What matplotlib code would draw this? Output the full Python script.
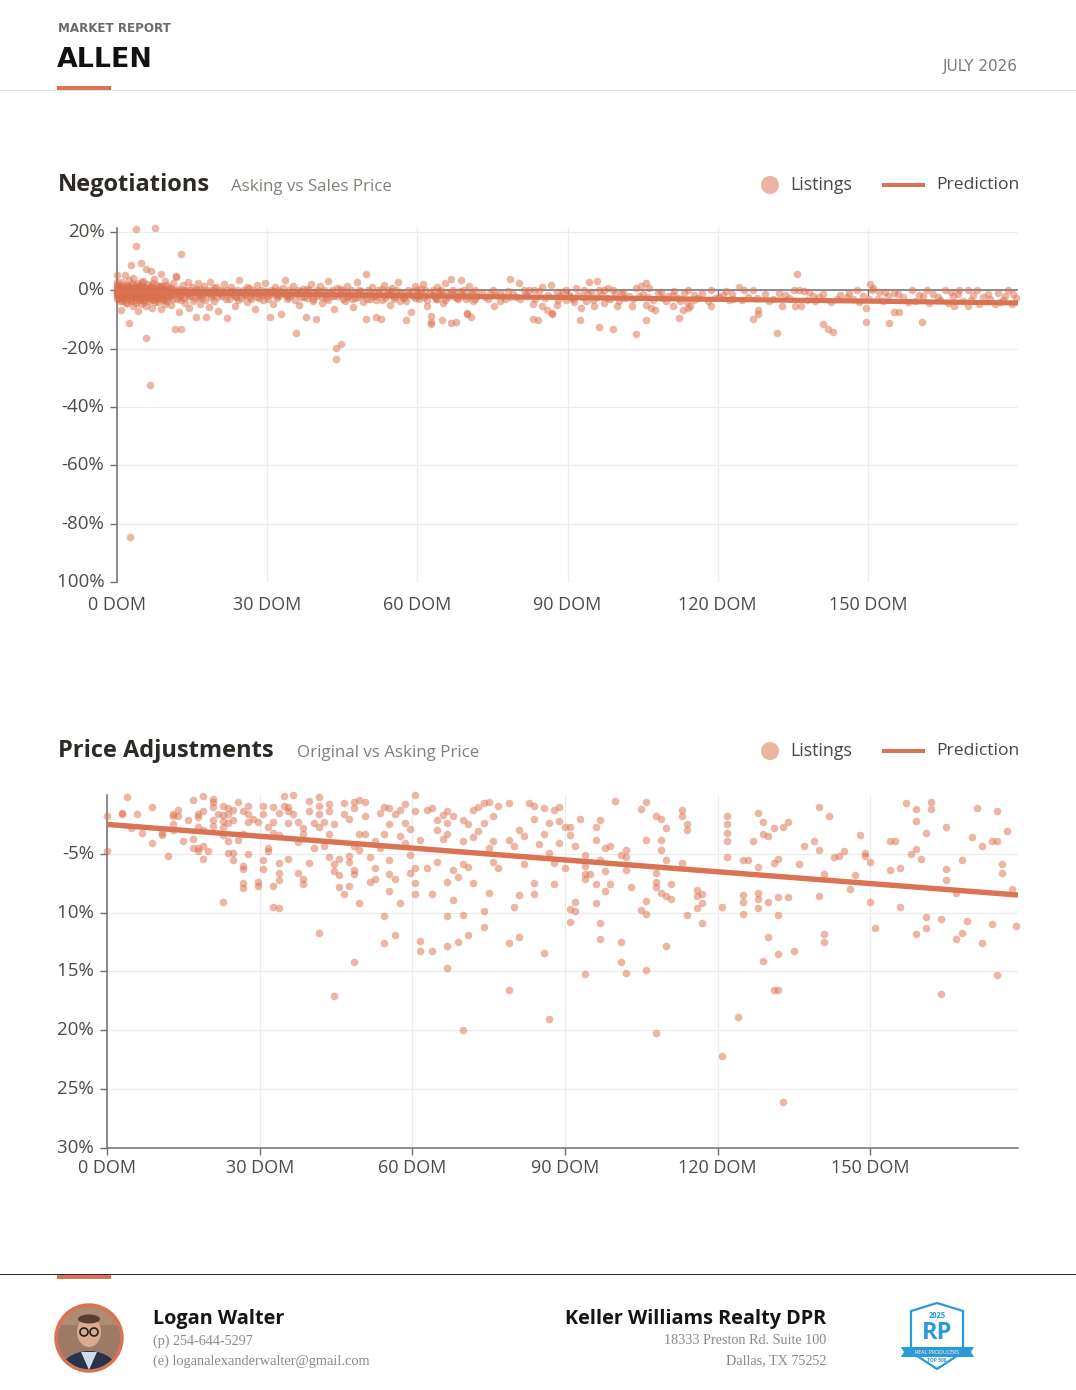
import matplotlib
matplotlib.use('Agg')
import matplotlib.pyplot as plt
from matplotlib.transforms import Bbox, TransformedBbox
from matplotlib.patches import Rectangle, Circle, Polygon, Ellipse

plt.rcParams['font.family'] = ['Open Sans', 'DejaVu Sans']

# ---------------- DATA ----------------
# Negotiations: (days on market, asking vs sales price %)
neg_pts_a = [(0,0),(0,-1),(0,1),(0,-2),(0,2),(0,-0.5),(0,0.5),(0,-3),(0,3),(0,-1.5),(0,5.3),(0.2,-0.3),(0.4,1.5),
    (0.5,-2.5),(0.6,0.8),(0.8,-6.7),(0.8,-1.2),(1,0),(1,2.8),(1,-3.5),(1.2,-0.8),(1.4,1.2),(1.6,5.3),(1.6,-2),(1.8,0.3),
    (2,-4.2),(2,2),(2,-1),(2.2,0),(2.4,-11.1),(2.4,3.5),(2.6,-84.5),(2.6,-0.5),(2.8,8.7),(2.8,-2.8),(2.8,1),(3,-1.8),
    (3,0),(3.2,-5.5),(3.2,4.2),(3.4,-0.6),(3.6,1.8),(3.8,21.1),(3.8,15.3),(3.8,-3.2),(4,0),(4,-1.3),(4,2.5),(4.2,-7),
    (4.4,0.7),(4.6,-2.2),(4.8,9.4),(4.8,-4.5),(5,0),(5,1.5),(5,-1),(5.2,3.2),(5.4,-2.8),(5.6,-0.3),(5.8,7.4),(5.8,-16.3),
    (5.8,-5.3),(6,0.5),(6,-1.8),(6.2,2.2),(6.4,-3.5),(6.6,-32.4),(6.6,0),(6.8,6.7),(6.8,-2),(7,1),(7,-6.2),(7.2,-0.8),
    (7.4,3.8),(7.6,21.4),(7.6,-1.5),(7.8,0),(8,-2.8),(8,2),(8.2,-4),(8.4,0.4),(8.6,-1),(8.8,5.5),(8.8,-6.5),(9,-0.5),
    (9,1.4),(9.2,-2.6),(9.4,0),(9.6,3.1),(9.8,-1.7),(10,-3.8),(10,0.2),(0.3,-1.8),(0.7,0.2),(1.1,-2.4),(1.5,-0.4),
    (1.9,1.6),(2.3,-1.4),(2.7,-3.6),(3.1,0.6),(3.5,-2.2),(3.9,-0.8),(4.3,1.2),(4.7,-1.6),(5.1,-3.4),(5.5,0.9),(5.9,-0.9),
    (6.3,-2.6),(6.7,1.4),(7.1,-3.2),(7.5,-0.2),(7.9,-2.2),(8.3,1.1),(8.7,-3.1),(9.1,-1.2),(9.5,-4.6),(9.9,0.6)]
neg_pts_b = [(10.4,1),(10.6,-2.2),(10.8,-5),(11,0),(11.2,2.7),(11.4,-1.2),(11.6,-13.2),(11.8,5),(11.8,4.6),(12,-3),
    (12.2,0.5),(12.4,-7.5),(12.6,-1.6),(12.8,12.5),(12.8,-13.2),(13,0),(13.2,1.8),(13.4,-2.5),(13.6,-4.4),(13.8,0.3),
    (14,-1),(14.2,3),(14.4,-6),(14.6,0),(14.8,-2),(15,1.2),(15.2,-3.6),(15.4,-0.4),(15.8,-9.1),(16,0),(16.2,2.5),
    (16.4,-1.5),(16.6,-4.8),(16.8,0.6),(17,-2.7),(17.4,1.5),(17.8,-9.1),(18,0),(18.2,-1),(18.4,-5.8),(18.6,2.8),
    (18.8,-2.2),(19,0),(19.4,-3.5),(19.8,1),(20,-0.5),(20.2,-7),(20.6,0),(21,-2),(21.4,2.2),(22,-9.4),(22,0),(22.4,-3),
    (22.8,1.2),(23.2,-1.2),(23.6,-5.5),(24,0),(24.4,3.5),(24.8,-2.5),(25.2,0),(25.6,-1.5),(26,-4),(26.4,0.8),(26.8,-2.8),
    (27.2,0),(27.6,-6.5),(28,1.8),(28.4,-1),(28.8,0),(29.2,-3.2),(29.6,2.5),(30,-1.8),(30.6,-9.1),(30.8,0),(31.2,-4.8),
    (31.6,1),(32,-2),(32.4,0),(32.8,-8.1),(33.2,-0.8),(33.6,3.6),(34,-3),(34.4,0),(34.8,-1.5),(35.2,1.5),(35.8,-14.6),
    (36,0),(36.4,-5),(36.8,-2.3),(37.2,0.5),(37.8,-9.1),(38,-1),(38.4,0),(38.8,2.2),(39.2,-3.6),(39.8,-9.8),(40,0),
    (40,-1.8),(10.9,-1.4),(12.5,-2.2),(14.1,-1.9),(15.6,-2.6),(17.6,-0.8),(19.2,-1.6),(21.2,-1),(23.8,-2.4),(25.9,-0.9),
    (27.9,-2.1),(29.9,-0.6),(31.9,-1.2),(33.9,-2),(35.9,-1),(37.9,-2.6),(39.5,-0.4)]
neg_pts_c = [(40.6,1.5),(41,-4.2),(41.4,0),(41.8,-2.5),(42.2,3.2),(42.6,-1),(43,0),(43.4,-6.5),(43.8,-19.7),
    (43.8,-23.5),(44.2,-2),(44.6,0.6),(44.8,-18.4),(45.2,0),(45.6,-3.5),(46,1.6),(46.4,-1.2),(46.8,0),(47.2,-5.8),
    (47.6,-2.5),(48,2.8),(48.4,0),(48.8,-1.5),(49.2,-4),(49.8,5.7),(49.8,-9.8),(50.2,0),(50.6,-2.8),(51,1.2),(51.4,-0.8),
    (51.8,-9.1),(52.2,0),(52.8,-9.8),(53,-3.3),(53.4,2),(53.8,-1.6),(54.2,0),(54.6,-5),(55,0.8),(55.4,-2.2),(55.8,0),
    (56.2,3),(56.6,-3.8),(57,-1),(57.8,-10.1),(58.2,0),(58.8,-7.4),(59.2,-2),(59.6,1.4),(60,0),(60.4,-3),(60.8,-1),
    (61.2,2.2),(61.6,0),(62,-5.2),(62.8,-8.7),(62.8,-10.8),(63.2,0),(63.6,-2.4),(64,1),(64.4,-1.3),(64.8,0),(65.2,-4.4),
    (65.6,2.6),(66,-0.6),(66.8,3.9),(66.8,-11.1),(67.2,0),(67.8,-10.8),(68.2,-2.8),(68.8,3.6),(69,-1),(69.4,0),(70,-7.7),
    (70.4,1.5),(70.8,-9.1),(71.2,-3.5),(71.6,0),(72,-1.8),(62.8,-11.5),(64.9,-10.1),(69.9,-8.1),(42.9,-1.8),(45.9,-2.4),
    (48.1,-1),(51.7,-2),(54.8,-1.5),(57.4,-2.6),(60.2,-1.9),(63.9,-3),(67.5,-2.2),(70.6,-1.2)]
neg_pts_d = [(74.6,-1.0),(76.6,-1.0),(78.6,-2.1),(81.3,0.2),(82.3,0.2),(83.3,0.2),(84.9,1.3),(86.8,1.9),(87.9,-0.4),
    (89.8,0.2),(91.6,0.7),(93.3,0.2),(94.6,-0.4),(96.3,0.3),(97.3,0.3),(98.1,0.7),(99.1,0.3),(100.6,-1.0),(103.6,0.7),
    (106.3,0.9),(108.6,-0.6),(111.3,-0.3),(114.1,0.2),(113.3,-1.0),(115.3,-1.5),(75.3,-5.2),(76.6,-3.8),(83.1,-4.6),
    (84.9,-5.2),(85.9,-6.7),(86.9,-7.8),(87.9,-4.9),(89.8,-3.2),(90.6,-2.1),(92.6,-6.1),(93.6,-3.8),(95.3,-5.2),
    (97.3,-4.4),(99.9,-5.5),(102.9,-5.5),(105.6,-4.9),(106.6,-6.1),(107.4,-6.7),(109.1,-2.7),(111.1,-5.2),(113.1,-6.7),
    (114.5,-5.3),(115.3,-3.2),(78.5,4.0),(80.3,2.5),(94.3,3.0),(105.6,2.7),(104.6,1.6),(83.1,-9.9),(84.1,-10.3),
    (86.9,-8.1),(92.5,-10.2),(96.3,-12.5),(99.1,-13.3),(103.7,-14.8),(105.6,-10.3),(112.2,-9.3),(114.1,-6.1),(95.9,3.3),
    (73.5,-2.2),(75.8,-1.5),(77.5,-2.8),(79.2,-1.2),(80.5,-3.0),(82,-2.0),(85.5,-2.5),(88.6,-1.8),(91,-3.0),(92,-1.5),
    (95.8,-2.2),(98.5,-3.0),(101.5,-2.5),(104.2,-2.0),(107,-3.2),(110,-2.0),(112.5,-3.5),(116,-2.6)]
neg_pts_e = [(118.6,0),(121.6,-0.2),(124.3,1.2),(125.3,0),(127.1,0),(135.3,0.2),(136.3,0.2),(137.3,-0.2),(138.3,-0.5),
    (147.8,0.2),(150.9,0.2),(152.3,-0.5),(153.5,-0.5),(155.3,-1),(158.9,0.2),(161.9,0.2),(165.5,0.2),(166.6,-0.4),
    (168.3,0.2),(170.1,0.2),(171.9,0.2),(135.8,5.5),(150.5,2.2),(151,0.8),(127.1,-9.8),(128.1,-8.2),(128.1,-6.7),
    (131.8,-14.7),(141.1,-11.4),(142.1,-13.3),(143.1,-14.2),(149.6,-10.8),(154.3,-11.1),(160.8,-10.8),(149.6,-6.1),
    (155.3,-7.3),(156.3,-7.3),(167.3,-5.2),(170.1,-5.2),(135.4,-5.5),(136.6,-5.5),(145.8,-2.1),(118.6,-5.5),(122.3,-3.3),
    (132.8,-5.2),(139.5,-3.6),(143.8,-3.0),(119.5,-2.5),(121,-1.5),(123,-3),(126,-2.2),(129.5,-1.4),(131,-2.8),
    (133.5,-1.5),(139,-2),(141,-1.2),(144.5,-1.5),(147,-3),(149,-2),(152,-2.8),(154,-1.8),(157,-2.3),(159.5,-3.5),
    (161,-2),(163,-1.3),(164.5,-3.2),(167,-2),(169,-3.6),(171,-1.5),(173,-2.4),(174.5,-3),(176,-0.8),(177.5,-2),
    (179,-1.2),(176.5,-4),(178,0)]
neg_pts_f = [(0.1,-0.8),(0.2,0.6),(0.3,-2.6),(0.4,-1.1),(0.5,0.3),(0.6,-3.8),(0.7,-1.6),(0.9,1.9),(1.0,-0.6),(1.1,0.9),
    (1.3,-2.9),(1.4,-1.7),(1.6,0.4),(1.7,-4.4),(1.8,-1.1),(2.0,0.8),(2.1,-2.1),(2.3,1.3),(2.5,-1.6),(2.6,-3.1),(2.7,0.4),
    (2.9,-1.2),(3.0,2.2),(3.2,-2.4),(3.3,-0.4),(3.5,1.1),(3.6,-1.4),(3.7,-4.3),(3.9,0.9),(4.1,-2.6),(4.2,-0.7),(4.4,-3.4),
    (4.5,1.8),(4.7,-0.3),(4.9,-2.0),(5.0,2.9),(5.2,-1.3),(5.3,-4.0),(5.5,-0.6),(5.7,1.2),(5.9,-2.4),(6.1,-0.4),(6.3,-1.2),
    (6.5,0.9),(6.7,-3.0),(6.9,-0.6),(7.1,2.4),(7.3,-1.9),(7.5,-3.9),(7.7,0.6),(7.9,-1.1),(8.1,-0.1),(8.3,-2.3),(8.5,1.6),
    (8.7,-0.7),(8.9,-1.9),(9.1,0.4),(9.3,-3.3),(9.5,-0.9),(9.7,1.9),(9.9,-2.5),(10.2,-0.6),(10.5,-1.7),(10.7,0.8),
    (11.1,-2.9),(11.5,0.1),(11.9,-1.3),(12.3,-0.3),(12.7,-3.2)]
neg_pts_g = [(12.9,-0.9),(13.5,-0.1),(14.3,-1.4),(15.1,-0.7),(15.7,0.4),(16.3,-2.2),(16.9,-1.1),(17.5,-3.2),(18.1,-0.4),
    (18.7,-1.3),(19.3,0.7),(19.9,-2.4),(20.5,-1.4),(21.1,-0.3),(21.7,-2.8),(22.3,-1.1),(22.9,-0.2),(23.5,-1.9),(24.1,-3.4),
    (24.7,-0.7),(25.3,-1.6),(25.9,1.1),(26.5,-2.1),(27.1,-1.2),(27.7,-0.4),(28.3,-2.7),(28.9,-1.6),(29.5,-0.3),(30.1,-3.1),
    (30.7,-1.3),(31.3,-0.2),(31.9,-2.6),(32.5,-1.7),(33.1,0.9),(33.7,-1.1),(34.3,-2.3),(34.9,-0.5),(35.5,-3.4),(36.1,-1.4),
    (36.7,-0.3),(37.3,-2.1),(37.9,0.6),(38.5,-1.5),(39.1,-2.8),(39.7,-1.1),(40.3,-0.4),(40.9,-2.2),(41.5,-1.3),(42.1,-3.3),
    (42.7,-0.6),(43.3,-1.9),(43.9,0.8),(44.5,-1.1),(45.1,-2.9),(45.7,-0.5),(46.3,-1.8),(46.9,-3.1),(47.5,-0.9),(48.1,-2.3),
    (48.7,-0.2),(49.3,-1.6),(49.9,-2.8),(50.5,-0.7),(51.1,-1.9),(51.7,-3.4),(52.3,-1.2),(52.9,0.4),(53.5,-2.5),(54.1,-1.4),
    (54.7,-0.3),(55.3,-3.1),(55.9,-1.6),(56.5,-0.6),(57.1,-2.2),(57.7,-3.6),(58.3,-1.1),(58.9,-0.2),(59.5,-2.7),(60.1,-1.5),
    (60.7,0.6),(61.3,-2.3),(61.9,-3.2),(62.5,-0.8),(63.1,-1.7),(63.7,-2.9),(64.3,-0.3),(64.9,-1.6),(65.5,-3.3),(66.1,-2.1),
    (66.7,-0.7),(67.3,-1.3),(67.9,-2.6),(68.5,-0.1),(69.1,-1.8),(69.7,-3.0),(70.3,-2.2),(70.9,-0.5),(71.5,-2.9)]
neg_pts_h = [(72.9,-0.4),(74.1,-3.1),(75.1,0.3),(77.1,-1.9),(78.1,-0.3),(79.8,-2.4),(81.8,-1.4),(83.6,-2.9),(84.3,-0.2),
    (86.1,-1.6),(88.2,-3.4),(89.1,-0.6),(90.2,-1.5),(91.2,-4.1),(93.0,-2.4),(94.1,-1.1),(95.1,-3.3),(96.8,-1.6),(97.8,-2.6),
    (99.5,-1.3),(100.2,-3.7),(101.0,-0.4),(102.2,-1.9),(103.1,-3.1),(105.0,-1.2),(106.0,-2.4),(108.0,-0.9),(109.6,-3.8),
    (111.0,-1.6),(112.0,-2.6),(113.8,-4.0),(116.8,-1.0),(118.0,-3.6),(120.2,-2.2),(122.8,-1.1),(124.8,-3.4),(127.8,-2.5),
    (130.2,-3.6),(132.2,-0.9),(134.2,-2.6),(137.8,-3.2),(140.2,-2.4),(142.6,-4.0),(146.2,-1.0),(148.2,-4.1),(150.2,-3.0),
    (153.0,-3.8),(156.0,-1.4),(158.0,-4.0),(160.2,-1.5),(162.3,-4.2),(164.0,-2.3),(166.0,-4.4),(168.0,-1.1),(170.6,-3.2),
    (172.2,-4.6),(174.0,-1.2),(175.5,-4.8),(177.0,-3.4),(178.8,-4.5),(179.6,-2.6)]
neg_pred_dom = [0, 180]
neg_pred_val = [-0.6, -4.3]
neg_yticks = [20, 0, -20, -40, -60, -80, -100]
neg_ylabels = ['20%', '0%', '-20%', '-40%', '-60%', '-80%', '-100%']

# Price adjustments: (days on market, original vs asking price %)
adj_pts_a = [(0,-1.8),(0,-4.8),(2.9,-1.5),(2.9,-1.6),(3.9,-0.2),(4.8,-2.8),(5.8,-1.6),(6.9,-3.2),(8.9,-1.0),(8.9,-4.1),
    (10.9,-3.2),(10.9,-3.4),(11.9,-5.2),(12.9,-1.6),(12.9,-1.8),(12.9,-2.5),(12.9,-3.0),(13.9,-1.3),(13.9,-1.8),
    (14.9,-3.9),(15.9,-2.1),(16.8,-0.4),(16.8,-3.7),(16.8,-4.5),(17.8,-1.6),(17.8,-1.9),(17.8,-2.7),(17.8,-4.5),
    (17.8,-4.8),(18.8,-0.1),(18.8,-1.4),(18.8,-3.0),(18.8,-4.3),(18.8,-5.4),(19.8,-4.8),(20.8,-0.3),(20.8,-0.6),
    (20.8,-1.0),(20.8,-2.1),(20.8,-2.6),(21.8,-1.6),(22.8,-0.9),(22.8,-1.7),(22.8,-2.2),(22.8,-2.7),(22.8,-3.4),
    (22.8,-9.1),(23.7,-1.1),(23.7,-1.6),(23.7,-2.4),(23.7,-3.9),(23.7,-4.9),(24.7,-1.3),(24.7,-2.1),(24.7,-4.9),
    (24.7,-5.5),(25.7,-0.6),(25.7,-3.8),(26.7,-1.4),(26.7,-3.3),(26.7,-6.0),(26.7,-6.3),(26.7,-7.5),(26.7,-7.9),
    (27.7,-0.9),(27.7,-1.6),(27.7,-2.3),(27.7,-5.0),(28.7,-2.0),(29.7,-2.3),(29.7,-7.4),(29.7,-7.7)]
adj_pts_b = [(30.7,-0.9),(30.7,-1.6),(30.7,-5.5),(30.7,-6.3),(31.7,-2.7),(31.7,-4.5),(31.7,-4.8),(32.7,-1.0),
    (32.7,-2.3),(32.7,-3.2),(32.7,-7.7),(32.7,-9.5),(33.7,-1.5),(33.7,-3.4),(33.7,-5.8),(33.7,-6.6),(33.7,-7.2),
    (33.7,-9.6),(34.7,-0.1),(34.7,-0.9),(35.6,-1.0),(35.6,-1.4),(35.6,-2.4),(35.6,-5.4),(36.6,0),(36.6,-1.6),(37.6,-2.3),
    (37.6,-4.0),(37.6,-6.6),(38.6,-2.8),(38.6,-3.3),(38.6,-7.1),(38.6,-7.6),(39.6,-0.5),(39.6,-1.4),(39.6,-5.8),
    (40.6,-2.4),(40.6,-4.5),(41.6,-0.2),(41.6,-0.9),(41.6,-1.6),(41.6,-2.7),(41.6,-11.7),(42.6,-2.3),(42.6,-4.3),
    (43.6,-0.8),(43.6,-1.4),(43.6,-3.3),(43.6,-5.3),(44.6,-2.5),(44.6,-5.9),(44.6,-6.5),(44.6,-17.1),(45.6,-5.4),
    (45.6,-6.8),(45.6,-7.8),(46.6,-0.7),(46.6,-1.6),(46.6,-8.4),(47.6,-2.0),(47.6,-5.2),(47.6,-5.7),(47.6,-7.7),
    (48.6,-0.6),(48.6,-1.1),(48.6,-4.3),(48.6,-6.4),(48.6,-6.7),(48.6,-14.2),(49.6,-0.4),(49.6,-3.3),(49.6,-4.7),
    (49.6,-9.2),(50.6,-0.6),(50.6,-1.8),(50.6,-3.3),(51.6,-5.3),(51.6,-7.4),(52.6,-3.9),(52.6,-6.2),(52.6,-7.1),
    (53.6,-1.5),(53.6,-4.5),(54.5,-1.0),(54.5,-3.3),(54.5,-10.3),(54.5,-12.6),(55.5,-1.1),(55.5,-2.5),(55.5,-5.5),
    (55.5,-6.7),(55.5,-8.2),(56.5,-1.6),(56.5,-7.1),(56.5,-11.9),(57.5,-1.3),(57.5,-3.5),(57.5,-9.2),(58.5,-0.8),
    (58.5,-2.4),(58.5,-4.1),(59.5,-2.9),(59.5,-5.1),(59.5,-6.6),(60.5,0),(60.5,-1.4),(60.5,-6.2),(60.5,-7.5),(60.5,-8.4),
    (61.5,-3.8),(61.5,-12.4),(61.5,-13.3)]
adj_pts_c = [(62.8,-1.3),(62.8,-6.2),(63.8,-1.1),(63.8,-8.4),(63.8,-13.3),(64.8,-2.1),(64.8,-3.0),(64.8,-5.7),
    (66,-1.7),(66,-3.7),(66.9,-1.4),(66.9,-2.4),(66.9,-3.3),(66.9,-7.4),(66.9,-10.3),(66.9,-12.8),(66.9,-14.7),
    (67.9,-1.8),(67.9,-6.4),(67.9,-8.9),(68.9,-7.0),(68.9,-12.5),(69.9,-2.1),(69.9,-3.9),(69.9,-5.9),(69.9,-10.2),
    (69.9,-20.0),(70.9,-2.5),(70.9,-6.1),(70.9,-11.9),(71.9,-1.3),(71.9,-3.6),(71.9,-7.5),(72.9,-1.0),(72.9,-3.1),
    (74,-0.7),(74,-2.4),(74,-9.9),(74,-11.2),(75,-0.6),(75,-4.5),(75,-8.3),(75.9,-1.8),(75.9,-3.9),(75.9,-5.7),
    (76.9,-0.9),(76.9,-6.2),(79,-0.7),(79,-3.8),(79,-12.6),(79,-16.6),(79.9,-4.3),(79.9,-9.5),(80.9,-3.0),(80.9,-8.5),
    (80.9,-12.1),(82,-3.5),(82,-5.9),(83,-0.7),(83.9,-0.9),(83.9,-2.0),(83.9,-7.5),(83.9,-8.4),(84.9,-4.2),(85.9,-1.1),
    (85.9,-3.3),(85.9,-13.4),(86.9,-2.4),(86.9,-4.9),(86.9,-19.0),(87.9,-1.3),(87.9,-5.8),(87.9,-7.6),(88.9,-1.0),
    (88.9,-2.2),(88.9,-4.1),(89.9,-2.7),(89.9,-6.2),(90.9,-2.7),(90.9,-3.4),(90.9,-9.7),(90.9,-10.8),(91.9,-4.3),
    (91.9,-9.1),(91.9,-9.9),(92.9,-2.0),(93.9,-5.1),(93.9,-6.0),(93.9,-6.7),(93.9,-7.1),(93.9,-15.2),(94.9,-6.7),
    (96,-2.7),(96,-3.8),(96,-7.6),(96,-9.2),(96.9,-2.1),(96.9,-5.5),(96.9,-10.9),(96.9,-12.2),(97.9,-4.5),(97.9,-6.5),
    (97.9,-8.2),(98.9,-4.3),(98.9,-7.6),(99.9,-0.5)]
adj_pts_d = [(100.9,-5.1),(100.9,-12.5),(100.9,-14.2),(101.9,-4.7),(101.9,-5.3),(101.9,-6.4),(101.9,-15.1),(102.9,-7.8),
    (104.9,-1.2),(104.9,-9.8),(105.9,-0.6),(105.9,-3.8),(105.9,-9.0),(105.9,-10.1),(105.9,-14.9),(107.9,-1.8),
    (107.9,-6.6),(107.9,-7.4),(107.9,-7.8),(107.9,-20.2),(108.9,-2.0),(108.9,-3.8),(108.9,-4.7),(108.9,-8.3),
    (109.9,-2.8),(109.9,-5.5),(109.9,-8.6),(109.9,-12.8),(110.9,-7.6),(110.9,-8.8),(112.9,-1.3),(112.9,-1.8),
    (112.9,-5.8),(113.9,-2.5),(113.9,-3.0),(113.9,-10.2),(115.9,-8.1),(115.9,-8.6),(115.9,-9.6),(116.9,-8.4),
    (116.9,-9.2),(116.9,-10.9),(120.9,-9.5),(120.9,-22.2),(121.9,-1.8),(121.9,-2.5),(121.9,-3.2),(121.9,-3.9),
    (121.9,-5.3),(123.9,-18.9),(124.9,-5.5),(124.9,-8.5),(124.9,-9.1),(124.9,-10.1),(125.9,-5.5),(126.9,-3.9),
    (127.9,-1.5),(127.9,-6.1),(127.9,-8.3),(127.9,-8.8),(127.9,-9.6),(128.9,-2.3),(128.9,-3.3),(128.9,-14.1),
    (129.9,-3.5),(129.9,-9.1),(129.9,-12.1),(131,-2.8),(131,-5.8),(131,-16.6),(131.9,-5.4),(131.9,-8.7),(131.9,-10.2),
    (131.9,-13.5),(131.9,-16.6),(132.9,-2.7),(132.9,-26.1),(133.9,-2.3),(133.9,-8.7),(134.9,-13.3),(135.9,-5.9),
    (136.9,-4.3),(138.9,-3.9),(139.9,-1.0),(139.9,-4.7),(139.9,-8.6)]
adj_pts_e = [(140.9,-6.7),(140.9,-11.8),(140.9,-12.5),(141.9,-1.8),(142.9,-5.3),(143.9,-5.2),(144.9,-4.8),(145.9,-8.0),
    (146.9,-6.8),(147.9,-3.4),(148.9,-4.9),(148.9,-5.2),(149.9,-5.7),(149.9,-9.1),(150.9,-11.3),(153.9,-3.9),
    (153.9,-6.4),(154.9,-3.9),(155.9,-6.2),(155.9,-9.5),(156.9,-0.7),(157.9,-5.0),(158.9,-1.2),(158.9,-2.2),
    (158.9,-4.6),(158.9,-11.8),(159.9,-5.4),(160.9,-3.2),(160.9,-10.4),(160.9,-11.3),(161.9,-0.6),(161.9,-1.2),
    (163.9,-10.5),(163.9,-16.9),(164.9,-2.7),(164.9,-6.3),(164.9,-7.2),(166.9,-8.3),(166.9,-12.2),(167.9,-5.5),
    (167.9,-11.7),(168.9,-10.7),(169.9,-3.6),(170.9,-1.1),(171.9,-4.3),(171.9,-12.6),(173.9,-3.9),(173.9,-11.0),
    (174.9,-1.4),(174.9,-3.9),(174.9,-15.3),(175.9,-5.9),(175.9,-6.6),(176.9,-3.1),(177.9,-8.0),(178.7,-11.1)]
adj_pred_dom = [0, 179]
adj_pred_val = [-2.5, -8.5]
adj_yticks = [-5, -10, -15, -20, -25, -30]
adj_ylabels = ['-5%', '-10%', '-15%', '-20%', '-25%', '-30%']

dom_ticks = [0, 30, 60, 90, 120, 150]
dom_labels = ['0 DOM', '30 DOM', '60 DOM', '90 DOM', '120 DOM', '150 DOM']

# ---------------- STYLE ----------------
W, H = 1076, 1390
ORANGE = '#DA7353'
PT = '#DB6E4C'
AXC = '#6e6e76'
GRID = '#ececec'
TICKC = '#4f4a45'
TITLEC = '#2d2a26'
SUBC = '#857f78'

fig = plt.figure(figsize=(W / 100, H / 100), dpi=100)
bg = fig.add_axes([0, 0, 1, 1], zorder=0)
bg.set_xlim(0, W)
bg.set_ylim(H, 0)
bg.axis('off')


def rect(l, t, r, b):
    return [l / W, 1 - b / H, (r - l) / W, (b - t) / H]


clipbox = TransformedBbox(Bbox.from_extents(57.5 / W, 0, 1, 1), fig.transFigure)


def split(*lists):
    xs, ys = [], []
    for lst in lists:
        for d, v in lst:
            xs.append(d)
            ys.append(v)
    return xs, ys


def style_axes(ax, yticks, ylabels, xmax, ylo, yhi, left_px, bottom_axis):
    ax.patch.set_alpha(0)
    ax.set_xlim(0, xmax)
    ax.set_ylim(ylo, yhi)
    for s in ['top', 'right']:
        ax.spines[s].set_visible(False)
    ax.spines['left'].set_color(AXC)
    ax.spines['left'].set_linewidth(1.1)
    if bottom_axis:
        ax.spines['bottom'].set_color(AXC)
        ax.spines['bottom'].set_linewidth(1.1)
        ax.tick_params(axis='x', length=5, width=1, color=AXC, pad=3)
    else:
        ax.spines['bottom'].set_visible(False)
        ax.tick_params(axis='x', length=0, pad=10)
    ax.set_xticks(dom_ticks)
    ax.set_xticklabels(dom_labels, fontsize=13, color=TICKC)
    ax.set_yticks(yticks)
    ax.set_yticklabels([])
    ax.tick_params(axis='y', length=5, width=1, color=AXC)
    ax.grid(True, color=GRID, linewidth=0.9, zorder=0)
    ax.set_axisbelow(True)
    for v, lab in zip(yticks, ylabels):
        t = fig.text(-12.5 / (1018 - left_px), v, lab, transform=ax.get_yaxis_transform(),
                     ha='right', va='center', fontsize=13.5, color=TICKC, clip_on=True)
        t.set_clip_box(clipbox)


# ---------------- CHART 1 ----------------
ax1 = fig.add_axes(rect(117, 228, 1018, 582), zorder=1)
style_axes(ax1, neg_yticks, neg_ylabels, 180, -100, 21.4, 117, False)
ax1.axhline(0, color=AXC, lw=1.1, zorder=1)
ax1.vlines(dom_ticks[1:], -2.0, 0, color=AXC, lw=1, zorder=1)
x1, y1 = split(neg_pts_a, neg_pts_b, neg_pts_c, neg_pts_d, neg_pts_e, neg_pts_f, neg_pts_g, neg_pts_h)
ax1.scatter(x1, y1, s=30, color=PT, alpha=0.5, linewidths=0, zorder=3, clip_on=False)
ax1.plot(neg_pred_dom, neg_pred_val, color=ORANGE, lw=3.7, zorder=4, solid_capstyle='butt')

# ---------------- CHART 2 ----------------
ax2 = fig.add_axes(rect(107, 795, 1018, 1148), zorder=1)
style_axes(ax2, adj_yticks, adj_ylabels, 179, -30, 0, 107, True)
x2, y2 = split(adj_pts_a, adj_pts_b, adj_pts_c, adj_pts_d, adj_pts_e)
ax2.scatter(x2, y2, s=30, color=PT, alpha=0.5, linewidths=0, zorder=3, clip_on=False)
ax2.plot(adj_pred_dom, adj_pred_val, color=ORANGE, lw=3.9, zorder=4, solid_capstyle='butt')

# ---------------- HEADER ----------------
bg.text(58, 29, 'MARKET REPORT', fontsize=8.6, fontweight='bold', color='#6a6a6a', va='center',
        family='DejaVu Sans')
bg.text(57, 60, 'ALLEN', fontsize=19.3, fontweight='bold', color='#111111', va='center', family='DejaVu Sans')
bg.text(1018, 67, 'JULY 2026', fontsize=11, color='#7a7a7a', va='center', ha='right', family='DejaVu Sans')
bg.add_patch(Rectangle((0, 90), W, 1, color='#e2e2e2', lw=0))
bg.add_patch(Rectangle((57, 86), 54, 4, color=ORANGE, lw=0))


def section(y, title, subtitle, sub_x):
    bg.text(58, y, title, fontsize=17, fontweight='bold', color=TITLEC, va='center')
    bg.text(sub_x, y + 2, subtitle, fontsize=12.2, color=SUBC, va='center')
    bg.add_patch(Circle((770, y), 9, color='#EBB4A0', lw=0))
    bg.text(790, y, 'Listings', fontsize=12.8, color='#4a4642', va='center')
    bg.add_patch(Rectangle((882, y - 2), 43, 4, color=ORANGE, lw=0))
    bg.text(936, y, 'Prediction', fontsize=12.6, color='#4a4642', va='center')


section(185, 'Negotiations', 'Asking vs Sales Price', 231)
section(751, 'Price Adjustments', 'Original vs Asking Price', 297)

# ---------------- FOOTER ----------------
bg.add_patch(Rectangle((0, 1273.5), W, 1.4, color='#2b2a26', lw=0))
bg.add_patch(Rectangle((57, 1275), 54, 4, color=ORANGE, lw=0))

cx, cy, r = 89, 1338, 33
clip = Circle((cx, cy), r, transform=bg.transData)
parts = [
    Circle((cx, cy), r, fc='#9c7a66', lw=0),
    Rectangle((cx - r, cy - r), 2 * r, 20, fc='#b08a72', lw=0),
    Ellipse((cx, cy + 38), 62, 50, fc='#27324c', lw=0),
    Polygon([(cx - 8, cy + 14), (cx + 8, cy + 14), (cx, cy + 32)], fc='#cddcec', lw=0),
    Ellipse((cx, cy - 6), 24, 30, fc='#dcaa8e', lw=0),
    Ellipse((cx, cy - 19), 22, 9, fc='#5a3f2f', lw=0),
    Circle((cx - 5, cy - 6), 4, fc='none', ec='#222222', lw=1.2),
    Circle((cx + 5, cy - 6), 4, fc='none', ec='#222222', lw=1.2),
]
for p in parts:
    bg.add_patch(p)
    p.set_clip_path(clip)
bg.add_patch(Circle((cx, cy), r, fc='none', ec=ORANGE, lw=2.5))

SERIF = ['Liberation Serif', 'DejaVu Serif']
bg.text(153, 1319, 'Logan Walter', fontsize=14.3, fontweight='bold', color='#141414', va='center')
bg.text(153, 1341, '(p) 254-644-5297', fontsize=10.2, color='#8a8a8a', va='center', family=SERIF)
bg.text(153, 1361, '(e) loganalexanderwalter@gmail.com', fontsize=10.4, color='#8a8a8a', va='center', family=SERIF)
bg.text(826, 1319, 'Keller Williams Realty DPR', fontsize=14.3, fontweight='bold', color='#141414', va='center',
        ha='right')
bg.text(826, 1341, '18333 Preston Rd. Suite 100', fontsize=10.2, color='#8a8a8a', va='center', ha='right', family=SERIF)
bg.text(826, 1361, 'Dallas, TX 75252', fontsize=10.2, color='#8a8a8a', va='center', ha='right', family=SERIF)

BLUE = '#2b9ad6'
bg.add_patch(Polygon([(911, 1311), (937, 1303), (963, 1311), (963, 1352), (937, 1369), (911, 1352)],
                     fc='white', ec=BLUE, lw=1.6))
bg.text(937, 1316, '2025', fontsize=5.5, fontweight='bold', color=BLUE, ha='center', va='center')
bg.text(937, 1333, 'RP', fontsize=17, fontweight='bold', color=BLUE, ha='center', va='center')
bg.add_patch(Polygon([(901, 1347), (974, 1347), (971, 1352), (974, 1357), (901, 1357), (904, 1352)],
                     fc=BLUE, lw=0))
bg.text(937, 1352.3, 'REAL PRODUCERS', fontsize=3.8, color='white', ha='center', va='center')
bg.text(937, 1361, 'TOP 500', fontsize=3.6, fontweight='bold', color=BLUE, ha='center', va='center')

fig.savefig('out.png', dpi=100)
